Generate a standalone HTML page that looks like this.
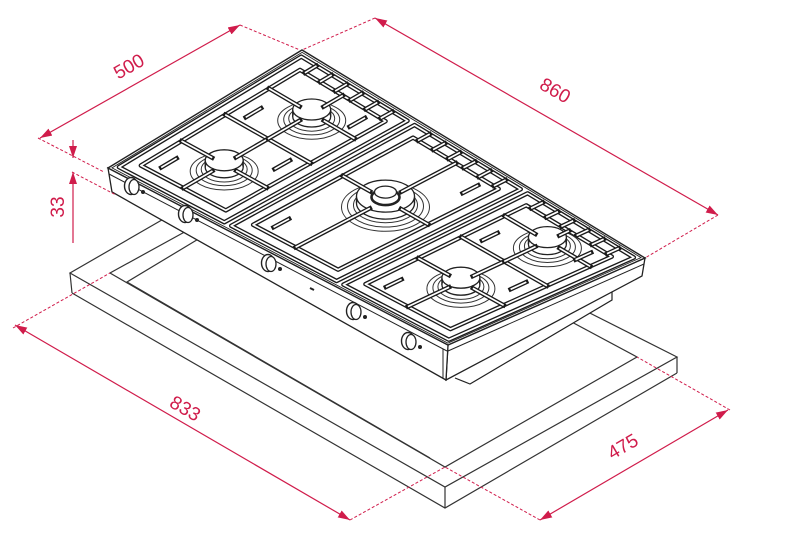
<!DOCTYPE html>
<html><head><meta charset="utf-8">
<style>
html,body{margin:0;padding:0;background:#fff;}
svg{display:block;}
text{font-family:"Liberation Sans",sans-serif;font-size:19px;fill:#d01c4b;}
</style></head>
<body>
<svg id="s" width="790" height="547" viewBox="0 0 790 547" xmlns="http://www.w3.org/2000/svg">
<defs>
<marker id="ar" viewBox="0 0 12 8" refX="12" refY="4" markerWidth="12" markerHeight="8" markerUnits="userSpaceOnUse" orient="auto-start-reverse">
<path d="M0,0L12,4L0,8z" fill="#d01c4b"/>
</marker>
</defs>
<g fill="none" stroke="#333" stroke-width="1.2">
<path d="M200,198L70,273L445,487L677,357L560,298"/>
<path d="M72,293L445,508L677,373"/>
<path d="M70,273L72,293M445,487L445,508M677,357L677,373"/>
<path d="M210,218L110,273L445,467L637,357L540,305"/>
<path d="M215,229L127,282L430,458"/>
</g>
<g id="hob"></g>
<g stroke="#d01c4b" fill="none" stroke-width="1.2">
<path d="M40,138L240,25" marker-start="url(#ar)" marker-end="url(#ar)"/>
<path d="M375,18L718,215" marker-start="url(#ar)" marker-end="url(#ar)"/>
<path d="M15,325L350,520" marker-start="url(#ar)" marker-end="url(#ar)"/>
<path d="M540,520L728,410" marker-start="url(#ar)" marker-end="url(#ar)"/>
<path d="M73,140L73,158" marker-end="url(#ar)"/>
<path d="M73,243L73,172" marker-end="url(#ar)"/>
</g>
<g stroke="#d01c4b" fill="none" stroke-width="1" stroke-dasharray="3,2">
<path d="M38,138L104,172"/>
<path d="M72,172L116,195"/>
<path d="M240,25L300,50"/>
<path d="M375,18L302,50"/>
<path d="M718,215L645,258"/>
<path d="M13,328L110,273"/>
<path d="M350,520L445,467"/>
<path d="M540,520L445,467"/>
<path d="M730,410L637,357"/>
</g>
<text x="0" y="0" text-anchor="middle" transform="translate(132,72) rotate(-29.5)">500</text>
<text x="0" y="0" text-anchor="middle" transform="translate(552,96) rotate(29.9)">860</text>
<text x="0" y="0" text-anchor="middle" transform="translate(64,207) rotate(-90)">33</text>
<text x="0" y="0" text-anchor="middle" transform="translate(182,414) rotate(30.2)">833</text>
<text x="0" y="0" text-anchor="middle" transform="translate(626,452) rotate(-30.3)">475</text>
</svg>
<script>
(function(){
const L=[108,168],F=[448,345],R=[645,258],B=[302,50];
function P(u,v){const a=(1-u)*(1-v),b=u*(1-v),c=u*v,d=(1-u)*v;
return [+(a*L[0]+b*F[0]+c*R[0]+d*B[0]).toFixed(1),+(a*L[1]+b*F[1]+c*R[1]+d*B[1]).toFixed(1)];}
let s='';
function quad(u0,v0,u1,v1){const p=[P(u0,v0),P(u1,v0),P(u1,v1),P(u0,v1)];return 'M'+p.map(q=>q.join(',')).join('L')+'Z';}
function seg(u0,v0,u1,v1){return 'M'+P(u0,v0)+'L'+P(u1,v1);}
function dbl(d){s+='<path d="'+d+'" fill="none" stroke="#1a1a1a" stroke-width="4.4" stroke-linejoin="round" stroke-linecap="square"/><path d="'+d+'" fill="none" stroke="#fff" stroke-width="1.7" stroke-linejoin="round"/>';}
s+='<path d="M455,378L470,384L612,300L612,282" fill="#fff" stroke="#222" stroke-width="1.2"/>';
s+='<path d="M448,345L645,258L642,276L446,380Z" fill="#fff" stroke="#222" stroke-width="1.3"/>';
s+='<path d="M448,351L644,264" fill="none" stroke="#222" stroke-width="1"/>';
s+='<path d="M108,168L448,345L446,380L112,192Z" fill="#fff" stroke="#222" stroke-width="1.3"/>';
s+='<path d="M109,174L447,351" fill="none" stroke="#222" stroke-width="1"/>';
s+='<path d="M443,349L443,378" fill="none" stroke="#222" stroke-width="1"/>';
s+='<path d="'+quad(0,0,1,1)+'" fill="#fff" stroke="#222" stroke-width="1.4"/>';
s+='<path d="'+quad(0.006,0.01,0.994,0.99)+'" fill="none" stroke="#222" stroke-width="0.9"/>';
function burner(bu,bv,big){
 const c=P(bu,bv);const x=c[0],y=c[1];
 const rings=big?[44,38,32]:[34,28,23];
 rings.forEach((r,i)=>{s+='<ellipse cx="'+x+'" cy="'+(y+7-i)+'" rx="'+r+'" ry="'+(r*0.55).toFixed(1)+'" fill="#fff" stroke="#333" stroke-width="1"/>';});
 const cr=big?29:19;
 s+='<ellipse cx="'+x+'" cy="'+(y+3)+'" rx="'+cr+'" ry="'+(cr*0.55).toFixed(1)+'" fill="#fff" stroke="#222" stroke-width="1.3"/>';
 s+='<path d="M'+(x-cr)+','+(y+3)+'L'+(x-cr)+','+(y-4)+'M'+(x+cr)+','+(y+3)+'L'+(x+cr)+','+(y-4)+'" stroke="#222" stroke-width="1.3"/>';
 s+='<ellipse cx="'+x+'" cy="'+(y-4)+'" rx="'+cr+'" ry="'+(cr*0.55).toFixed(1)+'" fill="#fff" stroke="#222" stroke-width="1.3"/>';
 if(big){
  s+='<ellipse cx="'+x+'" cy="'+(y-3)+'" rx="14" ry="8" fill="#fff" stroke="#222" stroke-width="2.6"/>';
  s+='<ellipse cx="'+x+'" cy="'+(y-8)+'" rx="11" ry="6" fill="#fff" stroke="#222" stroke-width="1.3"/>';
 }
}
function grate(u0,u1,burners){
 const v0=0.03,v1=0.97;
 s+='<path d="'+quad(u0,v0,u1,v1)+'" fill="#fff"/>';
 dbl(quad(u0,v0,u1,v1));
 const w=u1-u0,iu0=u0+0.03,iu1=u1-0.03,iv0=v0+0.06,iv1=v1-0.06;
 dbl(quad(iu0,iv0,iu1,iv1));
 for(let k=1;k<7;k++){const u=u0+w*k/7;dbl(seg(u,iv1,u,v1));}
 let lims;
 if(burners.length==2){const m=(burners[0][1]+burners[1][1])/2;dbl(seg(iu0,m,iu1,m));lims=[[iv0,m],[m,iv1]];}
 else lims=[[iv0,iv1]];
 burners.forEach(b=>burner(b[0],b[1],b[2]));
 burners.forEach((b,i)=>{
  const bu=b[0],bv=b[1],big=b[2];const du=big?0.045:0.035,dv=big?0.08:0.06;
  dbl(seg(bu+du,bv,iu1,bv));dbl(seg(iu0,bv,bu-du,bv));
  dbl(seg(bu,bv+dv,bu,lims[i][1]));dbl(seg(bu,lims[i][0],bu,bv-dv));
  dbl(seg(iu0+w*0.12,lims[i][0]+0.04,iu0+w*0.12,lims[i][0]+0.12));
  dbl(seg(iu1-w*0.12,lims[i][1]-0.12,iu1-w*0.12,lims[i][1]-0.04));
 });
}
grate(0.015,0.325,[[0.17,0.3,false],[0.17,0.75,false]]);
grate(0.345,0.655,[[0.5,0.55,true]]);
grate(0.675,0.985,[[0.83,0.36,false],[0.83,0.8,false]]);
[[133,186],[187,214],[270,263],[355,311],[410,341]].forEach(k=>{
 const x=k[0],y=k[1];
 s+='<ellipse cx="'+(x-2)+'" cy="'+y+'" rx="6.5" ry="8.5" fill="#fff" stroke="#222" stroke-width="1.4"/>';
 s+='<ellipse cx="'+(x+1)+'" cy="'+(y+1)+'" rx="5" ry="7.5" fill="#fff" stroke="#222" stroke-width="1.3"/>';
 s+='<circle cx="'+(x+10)+'" cy="'+(y+6)+'" r="2" fill="#222"/>';
});
s+='<path d="M310,288l4,2" stroke="#222" stroke-width="2"/>';
document.getElementById('hob').innerHTML=s;
})();
</script>
</body></html>
